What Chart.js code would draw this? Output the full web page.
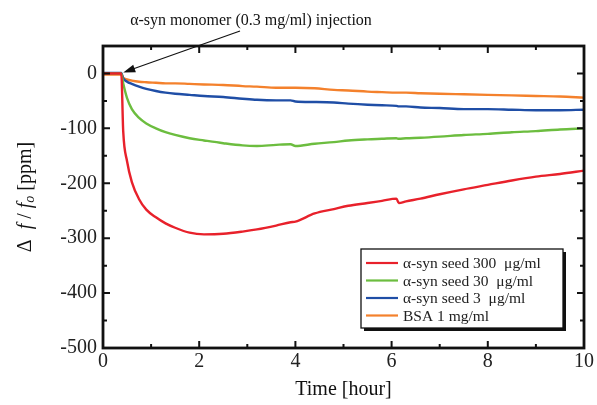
<!DOCTYPE html>
<html>
<head>
<meta charset="utf-8">
<script src="https://cdn.jsdelivr.net/npm/chart.js@4.4.0/dist/chart.umd.min.js"></script>
<style>
  html, body { margin: 0; padding: 0; background: #fff; }
  #wrap { width: 597px; height: 405px; }
</style>
</head>
<body>
<div id="wrap"><canvas id="qcm-chart"></canvas></div>
<script>
// time axis, hours
var hours = [0, 0.38, 0.42, 0.5, 0.6, 0.75, 0.9, 1.1, 1.3, 1.5, 1.8, 2.1, 2.5, 2.9, 3.2, 3.6, 3.9, 4.0,
             4.4, 4.8, 5.1, 5.5, 5.8, 6.1, 6.15, 6.3, 6.6, 7.0, 7.5, 8.0, 8.5, 9.0, 9.5, 10];

// delta f / f0 in ppm
var seed300 = [0, 0, -105, -160, -198, -229, -248, -262, -273, -281, -290, -293, -292, -288, -284, -277, -271, -270,
               -255, -247, -241, -236, -232, -228, -236, -233, -228, -220, -211, -203, -195, -188, -183, -177];
var seed30  = [0, 0, -18, -45, -65, -81, -91, -100, -107, -112, -118, -122, -127, -131, -132, -130, -129, -132,
               -128, -125, -122, -120, -119, -118, -119, -118, -117, -115, -112, -110, -107, -105, -102, -100];
var seed3   = [1, 1, -9, -15, -19, -24, -28, -32, -35, -37, -39, -41, -43, -46, -48, -49, -49, -51,
               -52, -53, -55, -57, -58, -59, -60, -60, -62, -63, -65, -65, -66, -67, -67, -66];
var bsa     = [-2, -2, -8, -11, -13, -15, -16, -17, -18, -18, -19, -20, -21, -23, -24, -26, -26, -26,
               -27, -30, -31, -33, -34, -35, -35, -35, -36, -37, -38, -39, -40, -41, -42, -44];

var seriesLabels = ["\u03b1-syn seed 300  \u03bcg/ml", "\u03b1-syn seed 30  \u03bcg/ml", "\u03b1-syn seed 3  \u03bcg/ml", "BSA 1 mg/ml"];
var seriesColors = ["#e8212b", "#6cbd3f", "#1f4ea6", "#f4812c"];

var xTicks = [0, 2, 4, 6, 8, 10];
var yTicks = [-500, -400, -300, -200, -100, 0];

var injectionTime = 0.4;
var serif = '"Liberation Serif", "Times New Roman", serif';

function toPoints(vals) {
    return vals.map(function(v, i) { return {x: hours[i], y: v}; });
}

var allSeries = [seed300, seed30, seed3, bsa];
var datasets = [];
for (var s = 0; s < allSeries.length; s++) {
    datasets.push({
        label: seriesLabels[s],
        data: toPoints(allSeries[s]),
        borderColor: seriesColors[s],
        backgroundColor: seriesColors[s],
        borderWidth: 2.4,
        pointRadius: 0,
        cubicInterpolationMode: 'monotone'
    });
}

var framePlugin = {
    id: 'frame',
    afterDraw: function(chart) {
        var ctx = chart.ctx;
        var a = chart.chartArea;
        var xs = chart.scales.x, ys = chart.scales.y;
        ctx.save();

        // box
        ctx.strokeStyle = '#111';
        ctx.lineWidth = 2.8;
        ctx.strokeRect(a.left, a.top, a.right - a.left, a.bottom - a.top);

        // inward ticks on all four sides
        ctx.lineWidth = 2;
        ctx.beginPath();
        for (var t = 0; t <= 10; t++) {
            var px = xs.getPixelForValue(t);
            var len = (t % 2 === 0) ? 7 : 4;
            ctx.moveTo(px, a.bottom); ctx.lineTo(px, a.bottom - len);
            ctx.moveTo(px, a.top); ctx.lineTo(px, a.top + len);
        }
        for (var v = -500; v <= 50; v += 50) {
            var py = ys.getPixelForValue(v);
            var l2 = (v % 100 === 0) ? 7 : 4;
            ctx.moveTo(a.left, py); ctx.lineTo(a.left + l2, py);
            ctx.moveTo(a.right, py); ctx.lineTo(a.right - l2, py);
        }
        ctx.stroke();

        // x title
        ctx.fillStyle = '#111';
        ctx.font = '20px ' + serif;
        ctx.textAlign = 'center';
        ctx.textBaseline = 'middle';
        ctx.fillText('Time [hour]', (a.left + a.right) / 2, 390);

        // y title, rotated with italic f and subscript o
        var parts = [
            {t: '\u0394  ', f: '20px ' + serif, dy: 0},
            {t: 'f', f: 'italic 20px ' + serif, dy: 0},
            {t: ' / ', f: '20px ' + serif, dy: 0},
            {t: 'f', f: 'italic 20px ' + serif, dy: 0},
            {t: 'o', f: 'italic 14px ' + serif, dy: 4},
            {t: ' [ppm]', f: '20px ' + serif, dy: 0}
        ];
        var total = 0;
        parts.forEach(function(p) { ctx.font = p.f; p.w = ctx.measureText(p.t).width; total += p.w; });
        ctx.save();
        ctx.translate(26, (a.top + a.bottom) / 2);
        ctx.rotate(-Math.PI / 2);
        ctx.textAlign = 'left';
        ctx.textBaseline = 'middle';
        var cx = -total / 2;
        parts.forEach(function(p) {
            ctx.font = p.f;
            ctx.fillText(p.t, cx, p.dy);
            cx += p.w;
        });
        ctx.restore();

        // injection annotation
        ctx.font = '16px ' + serif;
        ctx.textAlign = 'center';
        ctx.textBaseline = 'middle';
        ctx.fillText('\u03b1-syn monomer (0.3 mg/ml) injection', 251, 21);
        var tx = xs.getPixelForValue(injectionTime) + 1;
        var ty = ys.getPixelForValue(0) - 1;
        var sx = 240, sy = 31;
        var ang = Math.atan2(ty - sy, tx - sx);
        ctx.strokeStyle = '#111';
        ctx.lineWidth = 1.2;
        ctx.beginPath();
        ctx.moveTo(sx, sy);
        ctx.lineTo(tx - 8 * Math.cos(ang), ty - 8 * Math.sin(ang));
        ctx.stroke();
        ctx.beginPath();
        ctx.moveTo(tx, ty);
        ctx.lineTo(tx - 12 * Math.cos(ang) + 4 * Math.sin(ang), ty - 12 * Math.sin(ang) - 4 * Math.cos(ang));
        ctx.lineTo(tx - 12 * Math.cos(ang) - 4 * Math.sin(ang), ty - 12 * Math.sin(ang) + 4 * Math.cos(ang));
        ctx.closePath();
        ctx.fillStyle = '#111';
        ctx.fill();

        // legend box with shadow
        var lx = 361, ly = 249, lw = 202, lh = 79;
        ctx.fillStyle = '#111';
        ctx.fillRect(lx + 3, ly + 3, lw, lh);
        ctx.fillStyle = '#fff';
        ctx.fillRect(lx, ly, lw, lh);
        ctx.lineWidth = 1.3;
        ctx.strokeStyle = '#111';
        ctx.strokeRect(lx, ly, lw, lh);
        ctx.font = '15.5px ' + serif;
        ctx.textAlign = 'left';
        ctx.textBaseline = 'middle';
        chart.data.datasets.forEach(function(ds, i) {
            var rowY = 263 + i * 17.5;
            ctx.strokeStyle = ds.borderColor;
            ctx.lineWidth = 2.2;
            ctx.beginPath();
            ctx.moveTo(lx + 5, rowY);
            ctx.lineTo(lx + 37, rowY);
            ctx.stroke();
            ctx.fillStyle = '#222';
            ctx.fillText(ds.label, lx + 42, rowY + 1);
        });

        ctx.restore();
    }
};

var chart = new Chart(document.getElementById('qcm-chart'), {
    type: 'line',
    data: { datasets: datasets },
    options: {
        responsive: true,
        maintainAspectRatio: false,
        animation: false,
        layout: { padding: { left: 0, right: 13, top: 46, bottom: 0 } },
        plugins: { legend: { display: false }, tooltip: { enabled: false } },
        scales: {
            x: {
                type: 'linear',
                min: 0, max: 10,
                grid: { display: false, drawTicks: false },
                border: { display: false },
                afterBuildTicks: function(scale) { scale.ticks = xTicks.map(function(v) { return {value: v}; }); },
                afterFit: function(scale) { scale.height = 57; scale.paddingLeft = 0; scale.paddingRight = 0; },
                ticks: { color: '#222', padding: 2, maxRotation: 0, font: { family: serif, size: 20 } }
            },
            y: {
                type: 'linear',
                min: -500, max: 50,
                grid: { display: false, drawTicks: false },
                border: { display: false },
                afterBuildTicks: function(scale) { scale.ticks = yTicks.map(function(v) { return {value: v}; }); },
                afterFit: function(scale) { scale.width = 103; scale.paddingTop = 0; scale.paddingBottom = 0; },
                ticks: { color: '#222', padding: 6, font: { family: serif, size: 20 } }
            }
        }
    },
    plugins: [framePlugin]
});
</script>
</body>
</html>
